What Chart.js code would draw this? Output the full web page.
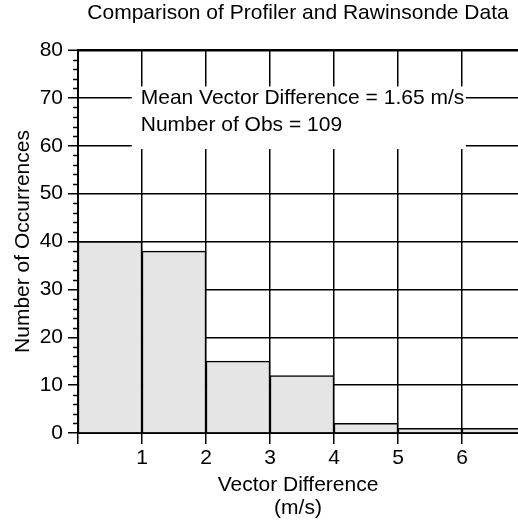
<!DOCTYPE html>
<html>
<head>
<meta charset="utf-8">
<script src="https://cdn.jsdelivr.net/npm/chart.js@4"></script>
<style>
  html, body { margin: 0; padding: 0; background: #fff; }
  #wrap { width: 518px; height: 522px; }
</style>
</head>
<body>
<div id="wrap"><canvas id="c" width="518" height="522"></canvas></div>
<script>
// ---- data ----
const binStarts = [0, 1, 2, 3, 4, 5, 6];
const binWidth = 1;
const counts = [40, 38, 15, 12, 2, 1, 1];
const xTicks = [1, 2, 3, 4, 5, 6];
const yTicks = [0, 10, 20, 30, 40, 50, 60, 70, 80];
const titleText = 'Comparison of Profiler and Rawinsonde Data';
const xTitle = ['Vector Difference', '(m/s)'];
const yTitle = 'Number of Occurrences';
const noteLines = ['Mean Vector Difference = 1.65 m/s', 'Number of Obs = 109'];

const FONT = '"Liberation Sans", Arial, Helvetica, sans-serif';
const FS = 21;

const points = binStarts.map((s, i) => ({ x: s + binWidth / 2, y: counts[i] }));

// white annotation box + text, drawn after grid, before bars
const notePlugin = {
  id: 'note',
  beforeDatasetsDraw(chart) {
    const { ctx, scales: { x, y } } = chart;
    const l = x.getPixelForValue(0.84), r = x.getPixelForValue(6.06);
    const t = y.getPixelForValue(72.4), b = y.getPixelForValue(59.3);
    ctx.save();
    ctx.fillStyle = '#fff';
    ctx.fillRect(l, t, r - l, b - t);
    ctx.fillStyle = '#000';
    ctx.font = FS + 'px ' + FONT;
    ctx.textBaseline = 'alphabetic';
    ctx.textAlign = 'left';
    ctx.fillText(noteLines[0], x.getPixelForValue(0.98), y.getPixelForValue(68.8));
    ctx.fillText(noteLines[1], x.getPixelForValue(0.98), y.getPixelForValue(63.0));
    ctx.restore();
  }
};

// minor y ticks every 2
const minorTicks = {
  id: 'minorTicks',
  afterDraw(chart) {
    const { ctx, scales: { y }, chartArea } = chart;
    ctx.save();
    ctx.strokeStyle = '#000';
    ctx.lineWidth = 1.5;
    for (let v = y.min; v <= y.max; v += 2) {
      if (v % 10 === 0) continue;
      const py = Math.round(y.getPixelForValue(v)) + 0.5;
      ctx.beginPath();
      ctx.moveTo(chartArea.left - 5, py);
      ctx.lineTo(chartArea.left, py);
      ctx.stroke();
    }
    ctx.restore();
  }
};

new Chart(document.getElementById('c'), {
  type: 'bar',
  data: {
    datasets: [{
      data: points,
      backgroundColor: '#e5e5e5',
      borderColor: '#000',
      borderWidth: 1.5,
      barPercentage: 1,
      categoryPercentage: 1
    }]
  },
  options: {
    responsive: false,
    animation: false,
    layout: { padding: 0 },
    plugins: {
      legend: { display: false },
      tooltip: { enabled: false },
      title: {
        display: true,
        fullSize: false,
        text: titleText,
        color: '#000',
        font: { family: FONT, size: FS, weight: 'normal', lineHeight: 1.0 },
        padding: { top: 3, bottom: 26 }
      }
    },
    scales: {
      x: {
        type: 'linear',
        offset: false,
        min: 0,
        max: 6.875,
        afterFit(s) { s.height = 89; },
        afterBuildTicks(s) { s.ticks = [0].concat(xTicks).map(v => ({ value: v })); },
        ticks: {
          includeBounds: false,
          autoSkip: false,
          maxRotation: 0,
          color: '#000',
          padding: 2,
          font: { family: FONT, size: FS },
          callback: v => (v === 0 ? '' : String(v))
        },
        grid: {
          offset: false,
          color: '#000',
          lineWidth: 1.5,
          tickLength: 11,
          tickColor: '#000',
          tickWidth: 1.5
        },
        border: { color: '#000', width: 2 },
        title: {
          display: true,
          text: xTitle,
          color: '#000',
          font: { family: FONT, size: FS, lineHeight: '23px' },
          padding: { top: 0, bottom: 2.5 }
        }
      },
      y: {
        type: 'linear',
        min: 0,
        max: 80,
        afterFit(s) { s.width = 78; },
        afterBuildTicks(s) { s.ticks = yTicks.map(v => ({ value: v })); },
        ticks: {
          color: '#000',
          padding: 5,
          font: { family: FONT, size: FS }
        },
        grid: {
          color: '#000',
          lineWidth: c => (c.tick && c.tick.value === 80 ? 2.5 : 1.5),
          tickLength: 10,
          tickColor: '#000',
          tickWidth: 1.5
        },
        border: { color: '#000', width: 2 },
        title: {
          display: true,
          text: yTitle,
          color: '#000',
          font: { family: FONT, size: FS, lineHeight: 1.2 },
          padding: { top: 11, bottom: 0 }
        }
      }
    }
  },
  plugins: [notePlugin, minorTicks]
});
</script>
</body>
</html>
